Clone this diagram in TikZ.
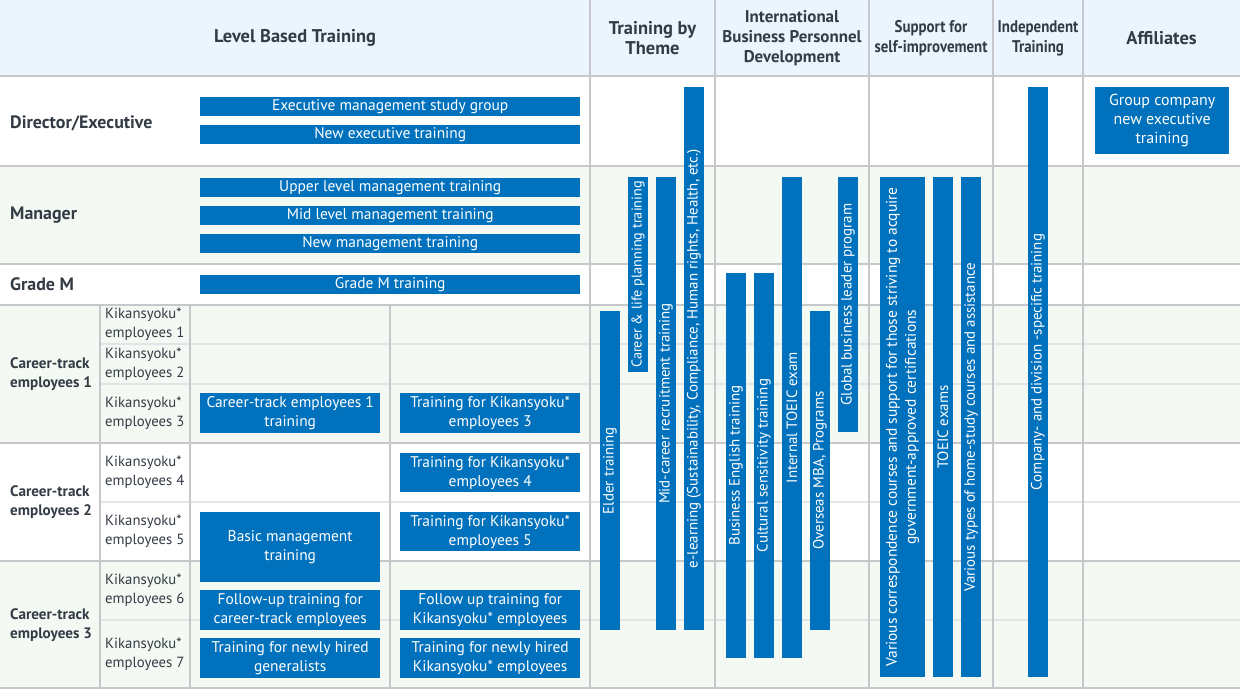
\documentclass[tikz,border=0pt]{standalone}
\usepackage{fontspec}
\setmainfont{PT Sans}
\newfontfamily\ptcond{PT Sans}[FakeStretch=0.88]
\definecolor{barblue}{HTML}{0071BC}
\definecolor{hdrbg}{HTML}{EAF5FD}
\definecolor{greenbg}{HTML}{F4F9F3}
\definecolor{gridmaj}{HTML}{C6C8CC}
\definecolor{gridmin}{HTML}{E2E4E6}
\definecolor{txt}{HTML}{333B45}
\begin{document}
\begin{tikzpicture}[x=1bp,y=-1bp,
  hbar/.style={fill=barblue, text=white, inner sep=0pt, anchor=north west, align=center, font=\fontsize{15.5}{19}\selectfont},
  vbar/.style={fill=barblue, text=white, inner sep=0pt, rotate=90, anchor=center, align=center, minimum height=20bp, font=\fontsize{15}{19}\selectfont},
  vlabel/.style={text=white, inner sep=0pt, rotate=90, anchor=center, align=center, font=\fontsize{15}{19}\selectfont},
  hdr/.style={text=txt, align=center, font=\bfseries\fontsize{18.5}{20}\selectfont, inner sep=0pt},
  hdrm/.style={text=txt, align=center, font=\bfseries\fontsize{17}{20}\selectfont, inner sep=0pt},
  hdrc/.style={text=txt, align=center, font=\ptcond\bfseries\fontsize{17}{20}\selectfont, inner sep=0pt},
  rowlab/.style={text=txt, align=left, anchor=west, font=\bfseries\fontsize{18}{20}\selectfont, inner sep=0pt},
  ctlab/.style={text=txt, align=left, anchor=west, font=\bfseries\fontsize{15.2}{19}\selectfont, inner sep=0pt},
  sublab/.style={text=txt, align=left, anchor=west, font=\fontsize{14.8}{19}\selectfont, inner sep=0pt},
  major/.style={draw=gridmaj, line width=1.6bp},
  minor/.style={draw=gridmin, line width=1.6bp}
]
\useasboundingbox (0,0) rectangle (1240,690);
% backgrounds
\fill[white] (0,0) rectangle (1240,690);
\fill[hdrbg] (0,0) rectangle (1240,76);
\fill[greenbg] (0,166) rectangle (1240,264);
\fill[greenbg] (0,305) rectangle (1240,443);
\fill[greenbg] (0,561) rectangle (1240,688);
% minor lines
\foreach \yy in {344,384,502,620} \draw[minor] (100,\yy) -- (1240,\yy);
% major lines
\foreach \yy in {76,166,264,305,443,561,688} \draw[major] (0,\yy) -- (1240,\yy);
\foreach \xx in {590,715,869,993,1083} \draw[major] (\xx,0) -- (\xx,688);
\foreach \xx in {100,190,390} \draw[major] (\xx,305) -- (\xx,688);
% headers
\node[hdr] (hLevel) at (295,38) {Level Based Training};
\node[hdr] (hTheme) at (652.5,38) {Training by\\Theme};
\node[hdrm] (hIntl) at (792,38) {International\\Business Personnel\\Development};
\node[hdrc] (hSupp) at (931,38) {Support for\\self-improvement};
\node[hdrc] (hIndep) at (1038,38) {Independent\\Training};
\node[hdr] (hAff) at (1161.5,38) {Affiliates};
% row labels
\node[rowlab] (rDir) at (10,123) {Director/Executive};
\node[rowlab] (rMgr) at (10,215) {Manager};
\node[rowlab] (rGM) at (10,284.5) {Grade M};
\node[ctlab] (rCT1) at (10,374) {Career-track\\employees 1};
\node[ctlab] (rCT2) at (10,502) {Career-track\\employees 2};
\node[ctlab] (rCT3) at (10,625) {Career-track\\employees 3};
\node[sublab] (k1) at (105,324.5) {Kikansyoku*\\employees 1};
\node[sublab] (k2) at (105,364) {Kikansyoku*\\employees 2};
\node[sublab] (k3) at (105,413.5) {Kikansyoku*\\employees 3};
\node[sublab] (k4) at (105,472.5) {Kikansyoku*\\employees 4};
\node[sublab] (k5) at (105,531.5) {Kikansyoku*\\employees 5};
\node[sublab] (k6) at (105,590.5) {Kikansyoku*\\employees 6};
\node[sublab] (k7) at (105,654.5) {Kikansyoku*\\employees 7};
% horizontal bars
\node[hbar, minimum width=380bp, minimum height=19bp] (bExecStudy) at (200,97) {Executive management study group};
\node[hbar, minimum width=380bp, minimum height=19bp] (bNewExec) at (200,125) {New executive training};
\node[hbar, minimum width=380bp, minimum height=19bp] (bUpper) at (200,178) {Upper level management training};
\node[hbar, minimum width=380bp, minimum height=19bp] (bMid) at (200,206) {Mid level management training};
\node[hbar, minimum width=380bp, minimum height=19bp] (bNewMgmt) at (200,234) {New management training};
\node[hbar, minimum width=380bp, minimum height=19bp] (bGradeM) at (200,275) {Grade M training};
\node[hbar, minimum width=180bp, minimum height=40bp] (bCT1) at (200,393) {Career-track employees 1\\training};
\node[hbar, minimum width=180bp, minimum height=40bp] (bK3) at (400,393) {Training for Kikansyoku*\\employees 3};
\node[hbar, minimum width=180bp, minimum height=39bp] (bK4) at (400,453) {Training for Kikansyoku*\\employees 4};
\node[hbar, minimum width=180bp, minimum height=70bp] (bBasic) at (200,512) {Basic management\\training};
\node[hbar, minimum width=180bp, minimum height=39bp] (bK5) at (400,512) {Training for Kikansyoku*\\employees 5};
\node[hbar, minimum width=180bp, minimum height=40bp] (bFollowCT) at (200,590) {Follow-up training for\\career-track employees};
\node[hbar, minimum width=180bp, minimum height=40bp] (bFollowK) at (400,590) {Follow up training for\\Kikansyoku* employees};
\node[hbar, minimum width=180bp, minimum height=40bp] (bNewGen) at (200,638) {Training for newly hired\\generalists};
\node[hbar, minimum width=180bp, minimum height=40bp] (bNewK) at (400,638) {Training for newly hired\\Kikansyoku* employees};
\node[hbar, minimum width=134bp, minimum height=67bp, font=\fontsize{16}{19}\selectfont] (bGroup) at (1095,87) {Group company\\new executive\\training};
% vertical bars
\node[vbar, minimum width=319bp] (vElder) at (610,470.5) {Elder training};
\node[vbar, minimum width=195bp, font=\fontsize{14.3}{19}\selectfont] (vCareer) at (638,274.5) {Career \& life planning training};
\node[vbar, minimum width=453bp] (vMidCareer) at (666,403.5) {Mid-career recruitment training};
\node[vbar, minimum width=543bp] (vElearn) at (694,358.5) {e-learning (Sustainability, Compliance, Human rights, Health, etc.)};
\node[vbar, minimum width=385bp] (vBizEng) at (736,465.5) {Business English training};
\node[vbar, minimum width=385bp] (vCult) at (764,465.5) {Cultural sensitivity training};
\node[vbar, minimum width=481bp] (vIntTOEIC) at (792,417.5) {Internal TOEIC exam};
\node[vbar, minimum width=319bp] (vMBA) at (820,470.5) {Overseas MBA, Programs};
\node[vbar, minimum width=255bp] (vGlobal) at (848,304.5) {Global business leader program};
\node[vbar, minimum width=500bp, minimum height=45bp, font=\fontsize{15.5}{19}\selectfont] (vCorr) at (902.5,427) {Various correspondence courses and support for those striving to acquire\\government-approved certifications};
\node[vbar, minimum width=500bp] (vTOEIC) at (943,427) {TOEIC exams};
\node[vbar, minimum width=500bp] (vHome) at (971,427) {Various types of home-study courses and assistance};
\node[vbar, minimum width=590bp] (vCompany) at (1038,382) {};
\node[vlabel] (vCompanyText) at (1038,362) {Company- and division -specific training};
\end{tikzpicture}
\end{document}
